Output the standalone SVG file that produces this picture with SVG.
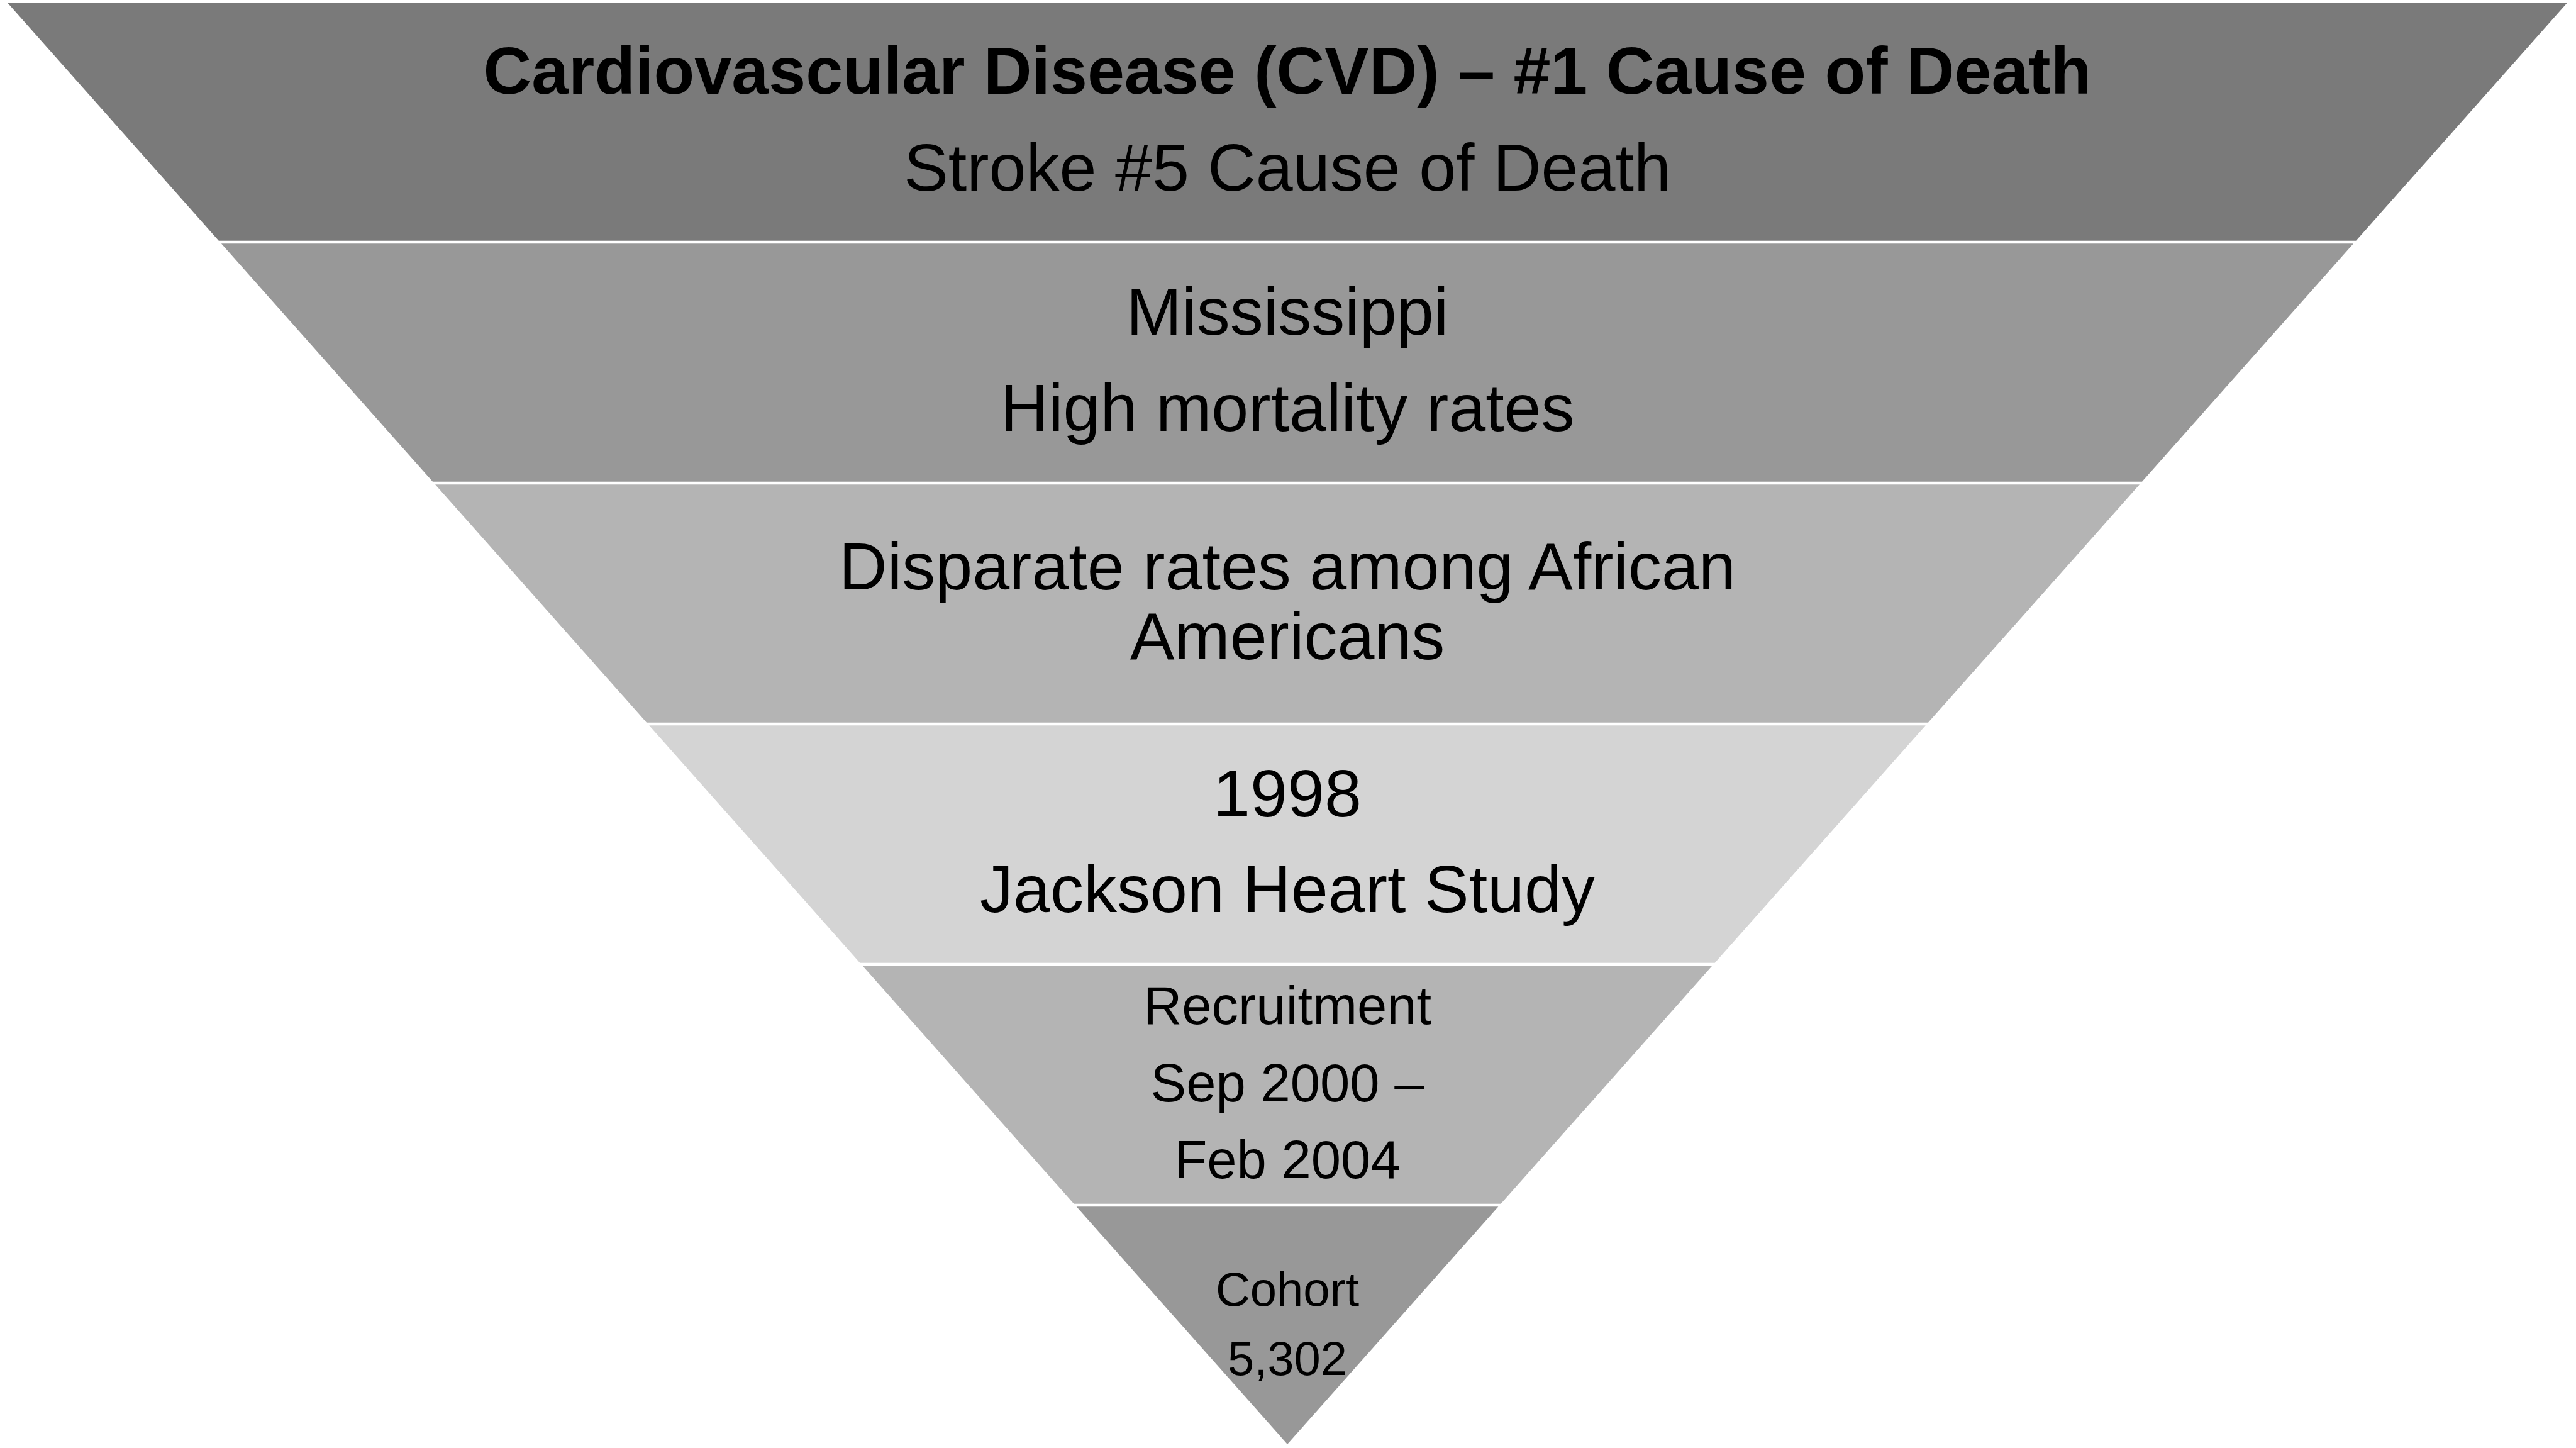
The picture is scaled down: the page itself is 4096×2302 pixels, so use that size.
<svg xmlns="http://www.w3.org/2000/svg" width="4096" height="2302" viewBox="0 0 4096 2302">
<style>
.t{font-family:"Liberation Sans",Arial,sans-serif;fill:#000;text-anchor:middle}
.l{font-size:106px}
.b{font-weight:bold}
.m{font-size:85px}
.s{font-size:76px}
</style>
<rect x="0" y="0" width="4096" height="2302" fill="#ffffff"/>
<g id="level1">
<polygon points="12,4.6 4082,4.6 3746.2,382.7 347.8,382.7" fill="#7a7a7a"/>
<text class="t l b" x="2047" y="149">Cardiovascular Disease (CVD) – #1 Cause of Death</text>
<text class="t l" x="2047" y="303">Stroke #5 Cause of Death</text>
</g>
<g id="level2">
<polygon points="351.9,387.3 3742.1,387.3 3406,765.7 688,765.7" fill="#989898"/>
<text class="t l" x="2047" y="532">Mississippi</text>
<text class="t l" x="2047" y="685">High mortality rates</text>
</g>
<g id="level3">
<polygon points="692,770.3 3402,770.3 3065.9,1148.7 1028.1,1148.7" fill="#b4b4b4"/>
<text class="t l" x="2047" y="937">Disparate rates among African</text>
<text class="t l" x="2047" y="1048">Americans</text>
</g>
<g id="level4">
<polygon points="1032.2,1153.3 3061.8,1153.3 2726.7,1530.7 1367.3,1530.7" fill="#d4d4d4"/>
<text class="t l" x="2047" y="1298">1998</text>
<text class="t l" x="2047" y="1450">Jackson Heart Study</text>
</g>
<g id="level5">
<polygon points="1371.4,1535.3 2722.6,1535.3 2386.5,1913.7 1707.5,1913.7" fill="#b4b4b4"/>
<text class="t m" x="2047" y="1628">Recruitment</text>
<text class="t m" x="2047" y="1751">Sep 2000 –</text>
<text class="t m" x="2047" y="1873">Feb 2004</text>
</g>
<g id="level6">
<polygon points="1711.6,1918.3 2382.4,1918.3 2047,2296" fill="#989898"/>
<text class="t s" x="2047" y="2076">Cohort</text>
<text class="t s" x="2047" y="2186">5,302</text>
</g>
<g id="connectors"></g>
</svg>
